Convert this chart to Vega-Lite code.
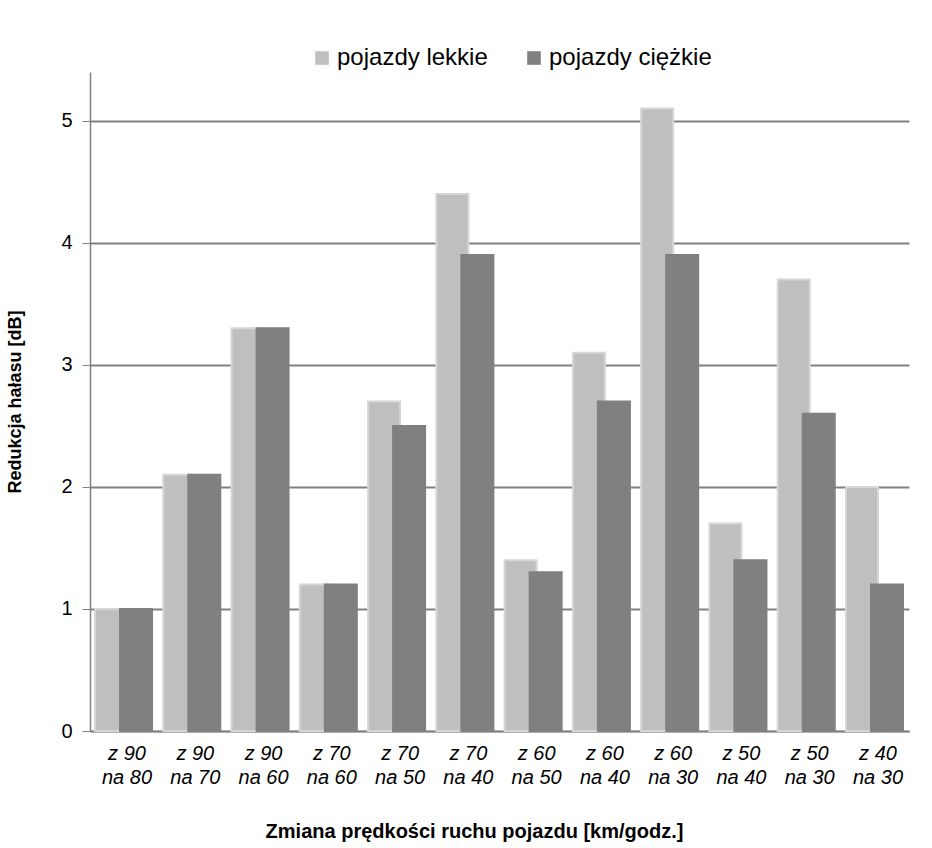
{
  "$schema": "https://vega.github.io/schema/vega-lite/v6.json",
  "width": 819,
  "height": 659,
  "autosize": "none",
  "padding": {"left": 90, "top": 72, "right": 23, "bottom": 117},
  "background": "white",
  "config": {
    "font": "Liberation Sans",
    "view": {"stroke": null}
  },
  "data": {
    "values": [
      {"zmiana": "z 90 na 80", "seria": "pojazdy lekkie", "v": 1.0},
      {"zmiana": "z 90 na 70", "seria": "pojazdy lekkie", "v": 2.1},
      {"zmiana": "z 90 na 60", "seria": "pojazdy lekkie", "v": 3.3},
      {"zmiana": "z 70 na 60", "seria": "pojazdy lekkie", "v": 1.2},
      {"zmiana": "z 70 na 50", "seria": "pojazdy lekkie", "v": 2.7},
      {"zmiana": "z 70 na 40", "seria": "pojazdy lekkie", "v": 4.4},
      {"zmiana": "z 60 na 50", "seria": "pojazdy lekkie", "v": 1.4},
      {"zmiana": "z 60 na 40", "seria": "pojazdy lekkie", "v": 3.1},
      {"zmiana": "z 60 na 30", "seria": "pojazdy lekkie", "v": 5.1},
      {"zmiana": "z 50 na 40", "seria": "pojazdy lekkie", "v": 1.7},
      {"zmiana": "z 50 na 30", "seria": "pojazdy lekkie", "v": 3.7},
      {"zmiana": "z 40 na 30", "seria": "pojazdy lekkie", "v": 2.0},
      {"zmiana": "z 90 na 80", "seria": "pojazdy ciężkie", "v": 1.0},
      {"zmiana": "z 90 na 70", "seria": "pojazdy ciężkie", "v": 2.1},
      {"zmiana": "z 90 na 60", "seria": "pojazdy ciężkie", "v": 3.3},
      {"zmiana": "z 70 na 60", "seria": "pojazdy ciężkie", "v": 1.2},
      {"zmiana": "z 70 na 50", "seria": "pojazdy ciężkie", "v": 2.5},
      {"zmiana": "z 70 na 40", "seria": "pojazdy ciężkie", "v": 3.9},
      {"zmiana": "z 60 na 50", "seria": "pojazdy ciężkie", "v": 1.3},
      {"zmiana": "z 60 na 40", "seria": "pojazdy ciężkie", "v": 2.7},
      {"zmiana": "z 60 na 30", "seria": "pojazdy ciężkie", "v": 3.9},
      {"zmiana": "z 50 na 40", "seria": "pojazdy ciężkie", "v": 1.4},
      {"zmiana": "z 50 na 30", "seria": "pojazdy ciężkie", "v": 2.6},
      {"zmiana": "z 40 na 30", "seria": "pojazdy ciężkie", "v": 1.2}
    ]
  },
  "mark": {"type": "bar", "width": {"band": 1.28}, "strokeWidth": 2},
  "encoding": {
    "x": {
      "field": "zmiana",
      "type": "nominal",
      "sort": null,
      "scale": {"paddingInner": 0.2676, "paddingOuter": 0.132, "align": 0.667},
      "axis": {
        "title": "Zmiana prędkości ruchu pojazdu [km/godz.]",
        "titleFontSize": 20,
        "titleFontWeight": "bold",
        "titleColor": "black",
        "titlePadding": 34,
        "titleX": 384,
        "titleAlign": "center",
        "labelAngle": 0,
        "labelFontSize": 20,
        "labelFontStyle": "italic",
        "labelColor": "black",
        "labelPadding": 12,
        "labelLineHeight": 24,
        "labelExpr": "[slice(datum.label, 0, 4), slice(datum.label, 5)]",
        "ticks": false,
        "domainColor": "#808080",
        "domainWidth": 1.5
      }
    },
    "xOffset": {
      "field": "seria",
      "type": "nominal",
      "sort": ["pojazdy lekkie", "pojazdy ciężkie"],
      "scale": {"paddingInner": 0, "paddingOuter": 0}
    },
    "y": {
      "field": "v",
      "type": "quantitative",
      "scale": {"domain": [0, 5.4], "nice": false},
      "axis": {
        "title": "Redukcja hałasu [dB]",
        "titleFontSize": 18,
        "titleFontWeight": "bold",
        "titleColor": "black",
        "titlePadding": 36,
        "values": [0, 1, 2, 3, 4, 5],
        "labelFontSize": 20,
        "labelColor": "black",
        "labelPadding": 10,
        "tickSize": 8,
        "tickColor": "#808080",
        "domainColor": "#808080",
        "domainWidth": 1.5,
        "grid": true,
        "gridColor": "#808080",
        "gridWidth": 2
      }
    },
    "color": {
      "field": "seria",
      "type": "nominal",
      "sort": ["pojazdy lekkie", "pojazdy ciężkie"],
      "scale": {"domain": ["pojazdy lekkie", "pojazdy ciężkie"], "range": ["#bfbfbf", "#808080"]},
      "legend": {
        "title": null,
        "orient": "none",
        "legendX": 220,
        "legendY": -26,
        "direction": "horizontal",
        "symbolType": "square",
        "symbolSize": 185,
        "symbolStrokeWidth": 0,
        "labelFontSize": 24,
        "labelColor": "black",
        "labelOffset": 3,
        "labelLimit": 300,
        "columnPadding": 34
      }
    },
    "stroke": {
      "field": "seria",
      "type": "nominal",
      "scale": {"domain": ["pojazdy lekkie", "pojazdy ciężkie"], "range": ["#d6d6d6", "#808080"]},
      "legend": null
    }
  }
}
